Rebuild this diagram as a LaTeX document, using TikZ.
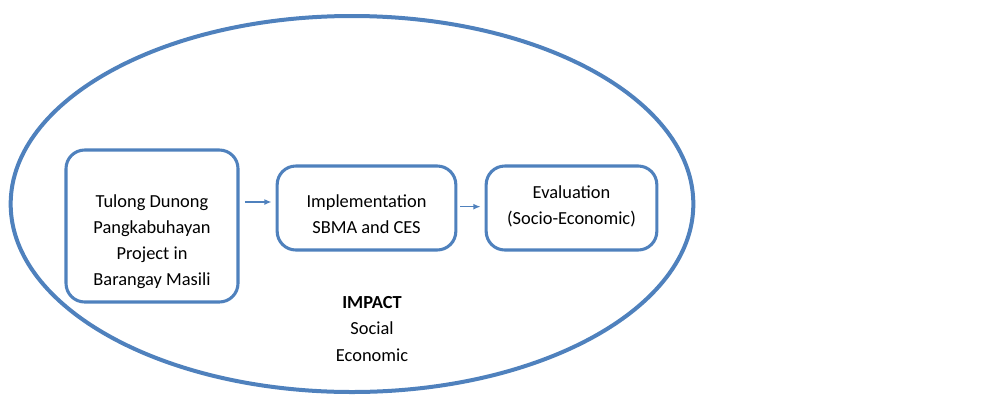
\documentclass[tikz,border=0pt]{standalone}
\usepackage{fontspec}
\setmainfont{Carlito}
\usetikzlibrary{arrows.meta}

\definecolor{stageblue}{RGB}{79,129,189}

\newcommand{\stagetext}[2]{\raisebox{#1}[0pt][0pt]{\begin{tabular}{@{}c@{}}#2\end{tabular}}}

\tikzset{
    stagebox/.style={draw=stageblue, line width=2.3pt, rounded corners=14pt,
        align=center, font=\fontsize{13.8pt}{19.5pt}\selectfont, inner sep=0pt},
    flow/.style={draw=stageblue, line width=1.1pt, -{Latex[length=5.5pt,width=4.5pt]}}
}

\begin{document}
\begin{tikzpicture}[x=0.75pt,y=-0.75pt]
        \useasboundingbox (0,0) rectangle (996,394);
        % Outer impact ellipse
        \draw[stageblue, line width=3pt] (352,204) ellipse [x radius=256pt, y radius=141pt];
        % Stages
        \node[stagebox, minimum width=129pt, minimum height=114pt] (project) at (152,226)
            {\stagetext{-14.7pt}{Tulong Dunong\\Pangkabuhayan\\Project in\\Barangay Masili}};
        \node[stagebox, minimum width=134pt, minimum height=63pt] (implement) at (366.5,208)
            {\stagetext{-8.7pt}{Implementation\\SBMA and CES}};
        \node[stagebox, minimum width=128pt, minimum height=63pt] (evaluate) at (571.5,208)
            {\stagetext{-2pt}{Evaluation\\(Socio-Economic)}};
        % Arrows between stages
        \draw[flow] ([xshift=4pt,yshift=18pt]project.east) -- ([xshift=-3pt,yshift=4.5pt]implement.west);
        \draw[flow] ([xshift=2pt,yshift=1pt]implement.east) -- ([xshift=-3pt,yshift=1pt]evaluate.west);
        % Impact label
        \node[align=center, font=\fontsize{13.8pt}{20pt}\selectfont] (impact) at (372,329)
            {\textbf{IMPACT}\\Social\\Economic};
    \end{tikzpicture}
\end{document}
